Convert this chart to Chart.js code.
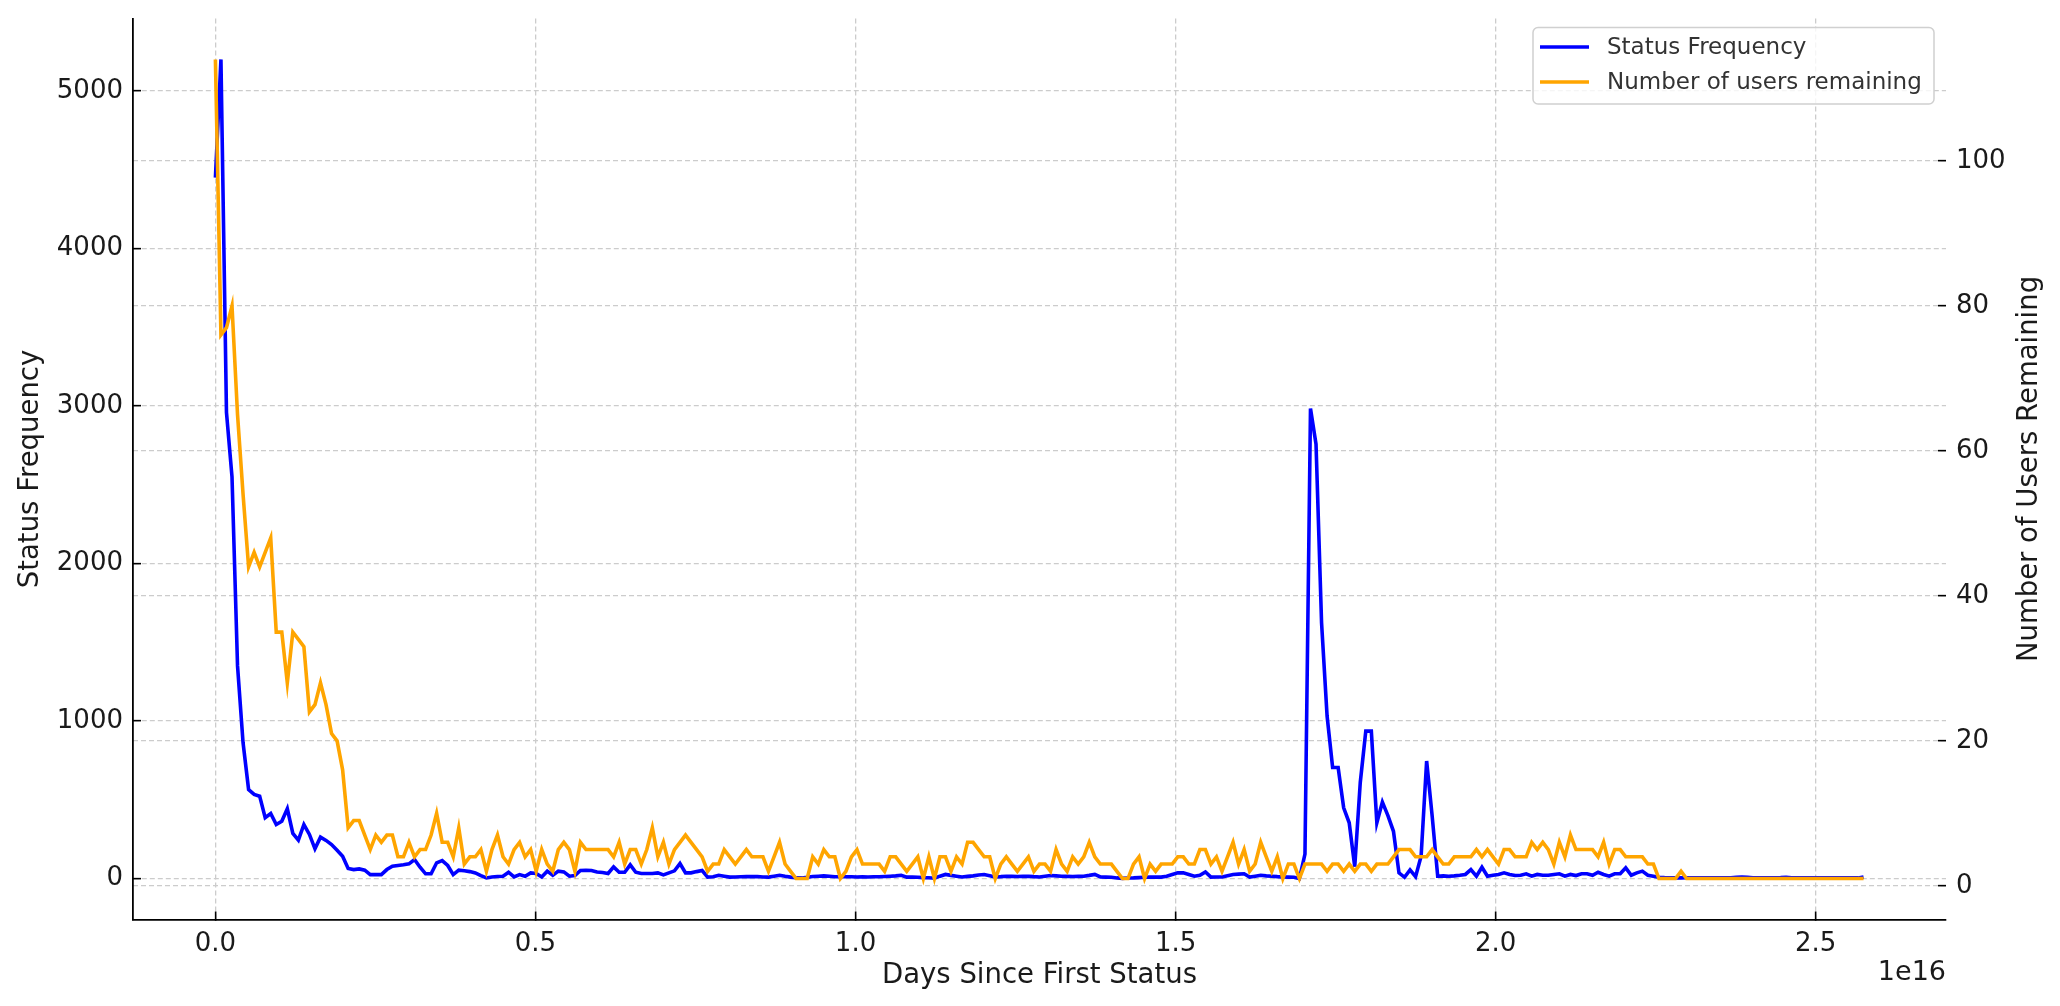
<!DOCTYPE html>
<html>
<head>
<meta charset="utf-8">
<title>Status Frequency and Users Remaining</title>
<script src="https://cdn.jsdelivr.net/npm/chart.js@4.4.1/dist/chart.umd.min.js"></script>
<style>
  html, body { margin: 0; padding: 0; background: #fff; }
  #wrap { width: 2060px; height: 1006px; }
</style>
</head>
<body>
<div id="wrap"><canvas id="chart" width="2060" height="1006"></canvas></div>
<script>
// one point per day, x is in nanoseconds since first status
const NS_PER_DAY = 8.64e13;

// daily status counts (days 0..298)
const statusFrequency = [
  4450, 5200, 2960, 2550, 1350, 862, 565, 534, 523, 386,
  413, 343, 364, 443, 286, 244, 343, 280, 189, 263,
  242, 216, 180, 142, 64, 57, 61, 53, 25, 25,
  25, 57, 78, 83, 87, 93, 121, 72, 30, 30,
  100, 114, 83, 25, 53, 49, 44, 36, 19, 4,
  10, 13, 15, 40, 10, 25, 15, 36, 32, 10,
  47, 21, 47, 42, 15, 19, 51, 53, 51, 42,
  38, 32, 74, 40, 40, 87, 40, 32, 32, 32,
  36, 23, 36, 49, 95, 36, 36, 44, 51, 9,
  11, 21, 15, 9, 10, 11, 12, 12, 13, 10,
  9, 15, 21, 14, 9, 5, 4, 8, 13, 15,
  17, 15, 11, 11, 11, 11, 10, 11, 10, 11,
  11, 13, 15, 17, 21, 9, 10, 8, 6, 5,
  2, 15, 26, 20, 15, 10, 14, 17, 22, 26,
  18, 10, 12, 15, 14, 13, 14, 15, 12, 10,
  15, 19, 17, 15, 14, 13, 14, 15, 20, 26,
  10, 9, 8, 4, 1, 3, 4, 6, 8, 9,
  10, 9, 15, 26, 36, 36, 26, 15, 21, 42,
  9, 10, 10, 18, 26, 28, 30, 9, 15, 21,
  17, 15, 12, 10, 9, 8, 0, 155, 2984, 2757,
  1625, 1032, 705, 705, 449, 354, 75, 610, 936, 936,
  354, 485, 400, 300, 36, 8, 55, 12, 142, 746,
  396, 15, 17, 15, 17, 21, 26, 57, 15, 72,
  15, 21, 26, 36, 26, 19, 21, 30, 15, 26,
  21, 21, 26, 30, 15, 26, 19, 30, 30, 21,
  40, 26, 15, 30, 30, 68, 21, 36, 47, 21,
  15, 8, 6, 5, 4, 4, 5, 5, 5, 5,
  5, 5, 5, 5, 5, 8, 10, 8, 5, 5,
  5, 5, 5, 6, 8, 5, 5, 5, 5, 5,
  5, 4, 4, 4, 4, 4, 4, 4, 10
];

// users still posting (days 0..298)
const usersRemaining = [
  114, 76, 77, 80, 65, 54, 44, 46, 44, 46,
  48, 35, 35, 28, 35, 34, 33, 24, 25, 28,
  25, 21, 20, 16, 8, 9, 9, 7, 5, 7,
  6, 7, 7, 4, 4, 6, 4, 5, 5, 7,
  10, 6, 6, 4, 8, 3, 4, 4, 5, 2,
  5, 7, 4, 3, 5, 6, 4, 5, 2, 5,
  3, 2, 5, 6, 5, 2, 6, 5, 5, 5,
  5, 5, 4, 6, 3, 5, 5, 3, 5, 8,
  4, 6, 3, 5, 6, 7, 6, 5, 4, 2,
  3, 3, 5, 4, 3, 4, 5, 4, 4, 4,
  2, 4, 6, 3, 2, 1, 1, 1, 4, 3,
  5, 4, 4, 1, 2, 4, 5, 3, 3, 3,
  3, 2, 4, 4, 3, 2, 3, 4, 1, 4,
  1, 4, 4, 2, 4, 3, 6, 6, 5, 4,
  4, 1, 3, 4, 3, 2, 3, 4, 2, 3,
  3, 2, 5, 3, 2, 4, 3, 4, 6, 4,
  3, 3, 3, 2, 1, 1, 3, 4, 1, 3,
  2, 3, 3, 3, 4, 4, 3, 3, 5, 5,
  3, 4, 2, 4, 6, 3, 5, 2, 3, 6,
  4, 2, 4, 1, 3, 3, 1, 3, 3, 3,
  3, 2, 3, 3, 2, 3, 2, 3, 3, 2,
  3, 3, 3, 4, 5, 5, 5, 4, 4, 4,
  5, 4, 3, 3, 4, 4, 4, 4, 5, 4,
  5, 4, 3, 5, 5, 4, 4, 4, 6, 5,
  6, 5, 3, 6, 4, 7, 5, 5, 5, 5,
  4, 6, 3, 5, 5, 4, 4, 4, 4, 3,
  3, 1, 1, 1, 1, 2, 1, 1, 1, 1,
  1, 1, 1, 1, 1, 1, 1, 1, 1, 1,
  1, 1, 1, 1, 1, 1, 1, 1, 1, 1,
  1, 1, 1, 1, 1, 1, 1, 1, 1
];

const xTicks = [0, 0.5e16, 1.0e16, 1.5e16, 2.0e16, 2.5e16];
const leftTicks = [0, 1000, 2000, 3000, 4000, 5000];
const rightTicks = [0, 20, 40, 60, 80, 100];

const TEXT = '#1a1a1a';
const GRID = '#cccccc';
const FONT = 'DejaVu Sans';

function toPoints(values) {
  return values.map((v, i) => ({ x: i * NS_PER_DAY, y: v }));
}

// legend box, "1e16" offset label and the right axis title (reads bottom to top)
const extras = {
  id: 'extras',
  afterDraw(chart) {
    const ctx = chart.ctx;
    const { right, top, bottom } = chart.chartArea;
    ctx.save();

    ctx.font = `27px "${FONT}"`;
    ctx.fillStyle = TEXT;
    ctx.textAlign = 'right';
    ctx.textBaseline = 'middle';
    ctx.fillText('1e16', right, 973);

    ctx.save();
    ctx.translate(2030, (top + bottom) / 2);
    ctx.rotate(-Math.PI / 2);
    ctx.font = `27.5px "${FONT}"`;
    ctx.textAlign = 'center';
    ctx.fillText('Number of Users Remaining', 0, 0);
    ctx.restore();

    const bx = 1533, by = 27.5, bw = 401, bh = 76.5;
    ctx.beginPath();
    ctx.roundRect(bx, by, bw, bh, 5);
    ctx.fillStyle = 'rgba(255,255,255,0.8)';
    ctx.fill();
    ctx.lineWidth = 1.5;
    ctx.strokeStyle = '#d0d0d0';
    ctx.stroke();

    const rows = [47, 82];
    chart.data.datasets.forEach((ds, i) => {
      const y = rows[i];
      ctx.beginPath();
      ctx.moveTo(1540, y);
      ctx.lineTo(1589, y);
      ctx.lineWidth = 3.6;
      ctx.strokeStyle = ds.borderColor;
      ctx.stroke();
      ctx.font = `23px "${FONT}"`;
      ctx.fillStyle = '#333333';
      ctx.textAlign = 'left';
      ctx.textBaseline = 'middle';
      ctx.fillText(ds.label, 1607, y + 1);
    });
    ctx.restore();
  }
};

const gridOpts = {
  color: GRID,
  lineWidth: 1.3,
  tickLength: -8,
  tickColor: '#000000',
  tickWidth: 1.6,
  tickBorderDash: []
};

document.addEventListener('DOMContentLoaded', () => {
  const ctx = document.getElementById('chart').getContext('2d');

  new Chart(ctx, {
    type: 'line',
    data: {
      datasets: [
        {
          label: 'Status Frequency',
          data: toPoints(statusFrequency),
          yAxisID: 'y',
          borderColor: '#0000ff',
          borderWidth: 3.6,
          pointRadius: 0,
          tension: 0,
          order: 2
        },
        {
          label: 'Number of users remaining',
          data: toPoints(usersRemaining),
          yAxisID: 'y2',
          borderColor: '#ffa500',
          borderWidth: 3.6,
          pointRadius: 0,
          tension: 0,
          order: 1
        }
      ]
    },
    options: {
      responsive: false,
      animation: false,
      devicePixelRatio: 1,
      layout: { padding: { top: 18.5, left: 0, right: 0, bottom: 0 } },
      plugins: {
        legend: { display: false },
        tooltip: { enabled: false }
      },
      scales: {
        x: {
          type: 'linear',
          position: 'bottom',
          min: -0.12874e16,
          max: 2.7035e16,
          afterBuildTicks: (s) => { s.ticks = xTicks.map(v => ({ value: v })); },
          afterFit: (s) => { s.height = 86.5; s.paddingLeft = 0; s.paddingRight = 0; },
          ticks: {
            callback: (v) => (v / 1e16).toFixed(1),
            font: { family: FONT, size: 26 },
            color: TEXT,
            padding: 17,
            maxRotation: 0
          },
          grid: gridOpts,
          border: { display: true, color: '#000000', width: 1.8, dash: [5, 3] },
          title: {
            display: true,
            text: 'Days Since First Status',
            font: { family: FONT, size: 27.5 },
            color: TEXT,
            padding: { top: 0, bottom: 14 }
          }
        },
        y: {
          type: 'linear',
          position: 'left',
          min: -260,
          max: 5460,
          afterBuildTicks: (s) => { s.ticks = leftTicks.map(v => ({ value: v })); },
          afterFit: (s) => { s.width = 133; s.paddingTop = 0; s.paddingBottom = 0; },
          ticks: {
            callback: (v) => String(v),
            font: { family: FONT, size: 26 },
            color: TEXT,
            padding: 18
          },
          grid: gridOpts,
          border: { display: true, color: '#000000', width: 1.8, dash: [5, 3] },
          title: {
            display: true,
            text: 'Status Frequency',
            font: { family: FONT, size: 27.5 },
            color: TEXT,
            padding: { top: 14, bottom: 0 }
          }
        },
        y2: {
          type: 'linear',
          position: 'right',
          min: -4.65,
          max: 119.65,
          afterBuildTicks: (s) => { s.ticks = rightTicks.map(v => ({ value: v })); },
          afterFit: (s) => { s.width = 114; s.paddingTop = 0; s.paddingBottom = 0; },
          ticks: {
            callback: (v) => String(v),
            font: { family: FONT, size: 26 },
            color: TEXT,
            padding: 18
          },
          grid: gridOpts,
          border: { display: false, dash: [5, 3] },
          title: { display: false }
        }
      }
    },
    plugins: [extras]
  });
});
</script>
</body>
</html>
